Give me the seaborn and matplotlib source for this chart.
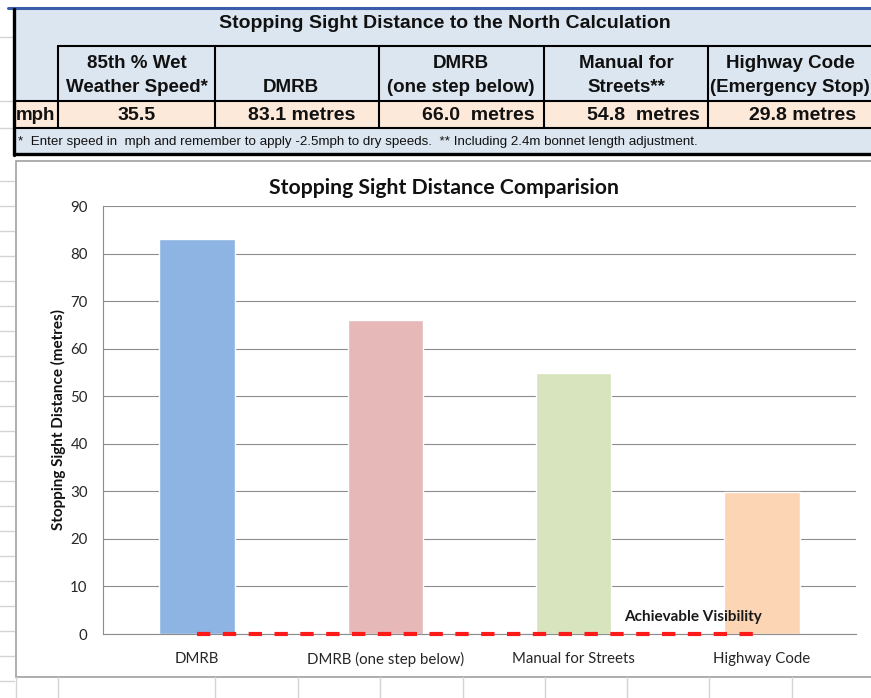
import numpy as np
import pandas as pd
import matplotlib
matplotlib.use('Agg')
import matplotlib.pyplot as plt
import seaborn as sns
from matplotlib.patches import Rectangle

# chart data
categories = ['DMRB', 'DMRB (one step below)', 'Manual for Streets', 'Highway Code']
distances = [83.1, 66.0, 54.8, 29.8]
achievable = [0, 0, 0, 0]
achievable_label = 'Achievable Visibility'
bar_colors = ['#8db4e2', '#e6b9b8', '#d7e4bd', '#fcd5b5']
y_ticks = [0, 10, 20, 30, 40, 50, 60, 70, 80, 90]
chart_title = 'Stopping Sight Distance Comparision'
y_label = 'Stopping Sight Distance (metres)'

# table data
table_title = 'Stopping Sight Distance to the North Calculation'
table_headers = ['85th % Wet\nWeather Speed*', 'DMRB', 'DMRB\n(one step below)',
                 'Manual for\nStreets**', 'Highway Code\n(Emergency Stop)']
speed_unit = 'mph'
table_values = ['35.5', '83.1 metres', '66.0  metres', '54.8  metres', '29.8 metres']
footnote = ('*  Enter speed in  mph and remember to apply -2.5mph to dry speeds.  '
            '** Including 2.4m bonnet length adjustment.')

W, H = 871, 698
sns.set_style('white')
plt.rcParams['font.family'] = ['Lato', 'DejaVu Sans']

fig = plt.figure(figsize=(W / 100, H / 100), dpi=100)

# sheet background drawn in pixel coords
bg = fig.add_axes([0, 0, 1, 1])
bg.set_xlim(0, W)
bg.set_ylim(H, 0)
bg.axis('off')

grid_c = '#d4d4d4'
for yy in [37, 101, 128] + list(range(181, H, 25)):
    bg.plot([0, 14], [yy, yy], color=grid_c, lw=1)
for xx in [16, 58, 215, 298, 380, 463, 545, 627, 709, 792]:
    bg.plot([xx, xx], [677, H], color=grid_c, lw=1)

# the calculation table
tbl_font = 'Liberation Sans'
bg.add_patch(Rectangle((14, 9), W - 14, 145, facecolor='#dce6f1', edgecolor='none'))
bg.add_patch(Rectangle((14, 101), W - 14, 27, facecolor='#fde9d9', edgecolor='none'))
bg.plot([8, W], [8, 8], color='#3b5bab', lw=2.2)
bg.plot([14, 14], [9, 155], color='black', lw=2.4)
bg.plot([14, W], [154, 154], color='black', lw=2.4)
bg.plot([58, W], [46, 46], color='black', lw=1.5)
bg.plot([14, W], [101, 101], color='black', lw=1.5)
bg.plot([14, W], [128, 128], color='black', lw=1.5)
for xx in [58, 215, 379, 544, 708]:
    bg.plot([xx, xx], [46, 128], color='black', lw=1.5)

bg.text(445, 23, table_title, ha='center', va='center', fontsize=14,
        fontweight='bold', family=tbl_font, color='#111111')
header_x = [137, 291, 461, 626, 790]
for hx, head in zip(header_x, table_headers):
    lines = head.split('\n')
    for i, line in enumerate(reversed(lines)):
        bg.text(hx, 87 - 24 * i, line, ha='center', va='center', fontsize=13.5,
                fontweight='bold', family=tbl_font, color='#111111')
bg.text(16, 115, speed_unit, ha='left', va='center', fontsize=13.5,
        fontweight='bold', family=tbl_font, color='#111111')
value_x = [137, 302, 478, 643, 803]
for vx, val in zip(value_x, table_values):
    bg.text(vx, 115, val, ha='center', va='center', fontsize=14,
            fontweight='bold', family=tbl_font, color='#111111')
bg.text(18, 142, footnote, ha='left', va='center', fontsize=9.6,
        family=tbl_font, color='#111111')

# chart area
bg.add_patch(Rectangle((16, 161), W, 677 - 161, facecolor='white',
                       edgecolor='#a0a0a0', lw=1.2))
fig.text(444 / W, 1 - 188 / H, chart_title, ha='center', va='center',
         fontsize=15.3, fontweight='bold', color='#111111')

ax = fig.add_axes([103 / W, 1 - 634 / H, (856 - 103) / W, (634 - 206) / H])
ax.set_facecolor('white')
df = pd.DataFrame({'method': categories, 'distance': distances})
sns.barplot(data=df, x='method', y='distance', hue='method', palette=bar_colors,
            width=0.4, saturation=1, legend=False, ax=ax, zorder=2)

sns.lineplot(x=np.arange(len(categories)), y=achievable, ax=ax, color='#ff1a1a',
             lw=3, sort=False, zorder=4)
ax.lines[-1].set_dashes([3.2, 3.0])
ax.lines[-1].set_clip_on(False)
ax.text(len(categories) - 1, 3.6, achievable_label, ha='right', va='center',
        fontsize=11, fontweight='bold', color='#1a1a1a', zorder=5)

ax.set_xlim(-0.5, len(categories) - 0.5)
ax.set_ylim(0, 90)
ax.set_yticks(y_ticks)
ax.yaxis.grid(True, color='#8c8c8c', lw=0.8)
ax.set_axisbelow(True)
for s in ['top', 'right']:
    ax.spines[s].set_visible(False)
for s in ['left', 'bottom']:
    ax.spines[s].set_color('#8c8c8c')
    ax.spines[s].set_linewidth(0.8)
ax.tick_params(axis='both', length=0, labelsize=10.8, colors='#262626')
ax.tick_params(axis='y', pad=11)
ax.tick_params(axis='x', pad=13)
ax.set_xlabel('')
ax.set_ylabel(y_label, fontsize=11, fontweight='bold', color='#111111')
ax.yaxis.label.set_va('center')
ax.yaxis.set_label_coords((58 - 103) / (856 - 103), 0.5)

fig.savefig('out.png', dpi=100)
